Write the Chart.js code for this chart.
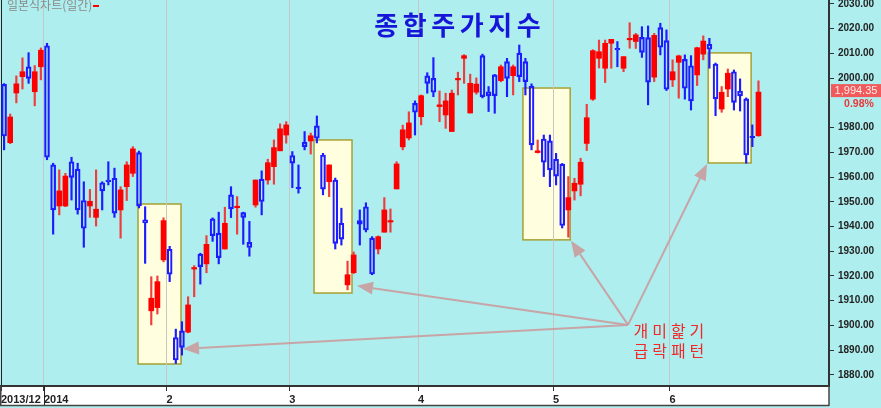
<!DOCTYPE html>
<html><head><meta charset="utf-8">
<script src="https://cdn.jsdelivr.net/npm/chart.js@4.4.1/dist/chart.umd.min.js"></script>
<style>html,body{margin:0;padding:0;background:#AFEEEE;overflow:hidden}canvas{display:block}</style>
</head><body>
<canvas id="c" width="881" height="408"></canvas>
<script>
// ---- data (KOSPI daily candles, 2013/12 - 2014/06) ----
const openV = [1997.5,1973.9,1994.0,2000.6,2004.6,1994.5,2004.6,2013.1,1964.9,1948.3,
 1948.3,1966.2,1963.2,1950.5,1948.3,1943.7,1957.7,1958.8,1959.5,1946.7,
 1956.1,1961.5,1969.9,1942.7,1905.9,1907.2,1926.5,1930.8,1895.1,1897.8,
 1897.3,1922.8,1928.8,1924.9,1943.1,1937.3,1930.9,1952.8,1947.6,1945.6,
 1933.6,1948.7,1959.1,1958.8,1964.2,1970.6,1977.0,1968.7,1955.7,1974.1,
 1974.6,1980.7,1968.9,1958.1,1958.8,1941.3,1916.4,1921.3,1942.4,1948.0,
 1935.3,1930.9,1937.7,1941.8,1955.2,1972.2,1975.8,1989.8,1984.4,2000.9,
 1999.9,1988.5,1985.1,1978.4,1999.3,2008.0,1985.9,1994.3,2009.1,1994.5,
 2001.3,1999.0,2006.7,2001.0,2010.1,2006.7,1996.8,1969.9,1975.4,1974.6,
 1967.2,1965.2,1946.7,1954.4,1957.1,1973.6,1991.5,2008.0,2004.0,2014.1,
 2012.1,2004.0,2015.5,2014.8,2016.5,2016.4,2000.4,2020.4,2015.2,1999.3,
 2006.4,2007.6,2005.0,2001.3,2009.7,2013.7,2005.7,1987.5,1995.6,2002.6,
 1994.8,1991.6,1976.1,1976.7];
const highV = [1997.8,1985.5,2000.9,2008.2,2010.3,2005.1,2012.2,2014.1,1965.6,1962.9,
 1961.5,1968.0,1965.6,1958.1,1955.0,1962.9,1958.1,1966.2,1963.6,1956.1,
 1966.2,1972.3,1970.5,1948.0,1919.7,1920.0,1943.5,1932.0,1898.5,1901.5,
 1911.6,1924.2,1929.2,1936.3,1943.5,1945.8,1947.8,1956.1,1952.1,1945.8,
 1942.1,1958.8,1962.5,1967.2,1975.0,1981.5,1982.4,1970.3,1964.9,1978.4,
 1977.8,1984.7,1969.6,1964.9,1959.6,1947.4,1926.0,1929.7,1946.7,1949.6,
 1935.9,1936.2,1951.7,1947.1,1966.2,1981.0,1986.4,1990.8,1993.2,2002.2,
 2008.3,1994.8,1993.9,1995.2,2002.4,2009.5,2001.6,2000.1,2009.7,1996.6,
 2001.5,2005.3,2008.0,2005.3,2013.4,2008.0,1997.7,1975.0,1977.0,1977.0,
 1969.6,1965.5,1960.2,1959.5,1967.6,1989.4,2011.5,2015.4,2015.4,2015.7,
 2014.8,2008.7,2022.4,2018.1,2020.8,2021.1,2018.1,2022.2,2019.5,2007.4,
 2009.3,2009.4,2009.1,2012.5,2017.1,2016.1,2006.1,1996.6,2003.7,2003.3,
 1999.7,1992.0,1981.1,1998.9];
const lowV = [1971.0,1973.5,1990.0,1995.6,1997.9,1988.8,1999.3,1967.0,1936.9,1944.7,
 1948.0,1950.7,1945.0,1931.6,1943.7,1940.2,1946.7,1956.8,1943.7,1935.3,
 1950.5,1960.2,1947.5,1925.1,1900.2,1904.6,1925.7,1917.7,1884.6,1888.0,
 1897.0,1911.6,1916.7,1921.3,1934.0,1924.9,1930.9,1943.6,1936.9,1932.8,
 1928.0,1947.8,1944.7,1957.1,1957.1,1970.6,1973.7,1955.7,1953.5,1971.0,
 1969.3,1973.8,1952.8,1952.1,1930.9,1932.5,1914.4,1921.0,1932.5,1937.8,
 1920.5,1928.9,1937.7,1937.7,1955.2,1971.0,1975.0,1977.0,1981.1,1993.9,
 1992.5,1982.4,1979.7,1978.4,1993.2,1997.9,1985.9,1993.5,1992.0,1986.5,
 1985.8,1998.5,1992.5,1993.2,1998.6,1993.2,1971.0,1969.7,1960.2,1956.1,
 1956.8,1939.4,1935.7,1950.7,1952.4,1970.7,1991.0,2004.1,1998.2,2004.0,
 2004.6,2002.6,2012.1,2012.0,2008.4,1989.2,1998.6,2009.4,1995.0,1996.6,
 1991.9,1991.5,1987.1,1997.0,2007.4,2004.0,1984.8,1986.2,1992.5,1987.1,
 1986.7,1965.6,1972.3,1976.5];
const closeV = [1976.6,1984.3,1997.7,2002.6,1999.9,2002.6,2011.3,1968.0,1946.7,1954.4,
 1960.4,1959.9,1946.7,1939.3,1950.2,1947.0,1954.4,1958.1,1945.4,1954.8,
 1964.9,1971.4,1948.3,1941.4,1911.0,1917.7,1942.4,1920.7,1886.0,1891.1,
 1908.3,1923.4,1923.8,1932.8,1936.3,1927.4,1941.3,1947.1,1948.0,1943.7,
 1931.5,1958.8,1950.1,1965.8,1971.9,1979.5,1981.1,1965.6,1955.3,1972.3,
 1976.7,1975.7,1955.1,1964.9,1933.2,1934.9,1920.5,1928.5,1940.9,1938.6,
 1920.8,1935.9,1946.7,1942.2,1965.3,1979.1,1981.9,1986.2,1992.9,1997.9,
 1994.3,1989.2,1990.8,1993.9,1999.9,2009.1,1997.9,1997.6,1992.5,1992.8,
 1992.9,2004.6,1999.9,2004.6,2000.6,1998.6,1973.0,1970.6,1966.0,1962.9,
 1960.4,1940.4,1951.7,1957.5,1966.0,1984.0,2011.1,2010.7,2014.1,2015.7,
 2011.4,2008.7,2015.9,2017.5,2010.4,1998.4,2017.3,2012.5,1995.5,2002.6,
 2009.0,1995.9,1990.8,2012.3,2015.0,2011.7,1991.6,1994.3,2002.0,1990.2,
 1992.8,1968.9,1975.9,1994.35];
const monthStartIdx = [0, 7, 27, 47, 68, 90, 109];
const monthLabels = ['2013/12', '2014', '2', '3', '4', '5', '6'];
// 1990 is covered by the last-price tag in the original
const yTickValues = [1880,1890,1900,1910,1920,1930,1940,1950,1960,1970,1980,2000,2010,2020,2030];
const lastChange = '0.98%';
const titleText = '종합주가지수';
const legendText = '일본식차트(일간)';
const noteLines = ['개미핥기', '급락패턴'];

// ---- styling / layout ----
const SLOTS = 135;
const RED = '#ff0000', RED_WICK = '#f03c3c', BLUE = '#1c1cff';
const idx = openV.map((_, i) => i);
const isUp = idx.map(i => closeV[i] >= openV[i]);

const bodyData = idx.map(i => ({x: i, y: [openV[i], closeV[i]]}));
const hiData = idx.map(i => ({x: i, y: [Math.max(openV[i], closeV[i]), highV[i]]}));
const loData = idx.map(i => ({x: i, y: [lowV[i], Math.min(openV[i], closeV[i])]}));
const wickColors = idx.map(i => isUp[i] ? RED_WICK : BLUE);

// annotation anchors in data space (index, value)
const boxes = [
  {x0: 21.84, x1: 28.85, y0: 1884.4, y1: 1949.1},
  {x0: 50.54, x1: 56.73, y0: 1913.1, y1: 1975.0},
  {x0: 84.60, x1: 92.30, y0: 1934.6, y1: 1996.0},
  {x0: 114.80, x1: 121.80, y0: 1965.7, y1: 2010.2}
];
const apex = {x: 101.73, y: 1900.2};
const tips = [{x: 29.17, y: 1890.5}, {x: 57.54, y: 1916.0}, {x: 92.44, y: 1934.2}, {x: 114.61, y: 1965.3}];
const noteAnchor = {x: 108.4, y1: 1897.8, y2: 1889.7};

const deco = {
  id: 'deco',
  beforeDraw(chart) {
    const {ctx, chartArea: a, scales: {x, y}} = chart;
    ctx.save();
    ctx.fillStyle = '#AFEEEE';
    ctx.fillRect(0, 0, chart.width, chart.height);
    ctx.fillStyle = '#ffffff';
    ctx.fillRect(0, a.bottom + 1, a.right, 405 - a.bottom - 1);
    boxes.forEach(b => {
      const px0 = x.getPixelForValue(b.x0), px1 = x.getPixelForValue(b.x1);
      const py0 = y.getPixelForValue(b.y1), py1 = y.getPixelForValue(b.y0);
      ctx.fillStyle = '#FFFFE0';
      ctx.fillRect(px0, py0, px1 - px0, py1 - py0);
      ctx.strokeStyle = '#A6A032';
      ctx.lineWidth = 1.5;
      ctx.strokeRect(px0, py0, px1 - px0, py1 - py0);
    });
    ctx.restore();
  },
  afterDatasetsDraw(chart) {
    const {ctx, scales: {x, y}} = chart;
    ctx.save();
    const ax = x.getPixelForValue(apex.x), ay = y.getPixelForValue(apex.y);
    ctx.strokeStyle = 'rgba(200,160,162,0.95)';
    ctx.fillStyle = 'rgba(200,160,162,0.95)';
    ctx.lineWidth = 2;
    tips.forEach(t => {
      const tx = x.getPixelForValue(t.x), ty = y.getPixelForValue(t.y);
      const ang = Math.atan2(ty - ay, tx - ax);
      const L = 16, W = 6.5;
      const bx = tx - L * Math.cos(ang), by = ty - L * Math.sin(ang);
      ctx.beginPath(); ctx.moveTo(ax, ay); ctx.lineTo(bx, by); ctx.stroke();
      ctx.beginPath(); ctx.moveTo(tx, ty);
      ctx.lineTo(bx + W * Math.sin(ang), by - W * Math.cos(ang));
      ctx.lineTo(bx - W * Math.sin(ang), by + W * Math.cos(ang));
      ctx.closePath(); ctx.fill();
    });
    ctx.fillStyle = '#f02828';
    ctx.font = '16px "Noto Sans CJK KR"';
    ctx.textAlign = 'center'; ctx.textBaseline = 'middle';
    const nx = x.getPixelForValue(noteAnchor.x);
    [noteAnchor.y1, noteAnchor.y2].forEach((vy, li) => {
      const py = y.getPixelForValue(vy);
      const chars = [...noteLines[li]];
      chars.forEach((ch, k) => ctx.fillText(ch, nx + (k - (chars.length - 1) / 2) * 18.7, py));
    });
    ctx.restore();
  },
  afterDraw(chart) {
    const {ctx, chartArea: a, scales: {x, y}} = chart;
    ctx.save();
    ctx.fillStyle = '#1616d8';
    ctx.font = 'bold 26px "Noto Sans CJK KR"';
    ctx.textAlign = 'center'; ctx.textBaseline = 'middle';
    const tch = [...titleText];
    tch.forEach((ch, k) => ctx.fillText(ch, 457.5 + (k - (tch.length - 1) / 2) * 28.5, 25));
    ctx.fillStyle = '#8a8a8a';
    ctx.font = '12px "Noto Sans CJK KR"';
    ctx.textAlign = 'left';
    ctx.fillText(legendText, 7, 5);
    ctx.fillStyle = RED;
    ctx.fillRect(93, 5, 6, 2);
    ctx.strokeStyle = '#222'; ctx.lineWidth = 1;
    const yx = Math.round(x.getPixelForValue(monthStartIdx[1] - 0.5)) + 0.5;
    ctx.beginPath(); ctx.moveTo(yx, a.bottom); ctx.lineTo(yx, 405); ctx.stroke();
    ctx.strokeStyle = '#444'; ctx.lineWidth = 1.5;
    ctx.beginPath(); ctx.moveTo(0, 405.5); ctx.lineTo(a.right, 405.5); ctx.stroke();
    ctx.beginPath(); ctx.moveTo(a.right, a.bottom); ctx.lineTo(a.right, 406); ctx.stroke();
    ctx.beginPath(); ctx.moveTo(0.75, a.bottom); ctx.lineTo(0.75, 406); ctx.stroke();
    const last = closeV[closeV.length - 1];
    const py = y.getPixelForValue(last) - 1.5;
    ctx.fillStyle = '#f05a5a';
    ctx.fillRect(a.right + 2, py - 6.5, chart.width - a.right - 2, 13);
    ctx.fillStyle = '#ffecec';
    ctx.font = '11px "Liberation Sans"';
    ctx.textAlign = 'center';
    ctx.fillText(last.toLocaleString('en-US', {minimumFractionDigits: 2, maximumFractionDigits: 2}), 856, py + 0.5);
    ctx.fillStyle = '#e83838';
    ctx.font = 'bold 10.5px "Liberation Sans"';
    ctx.fillText(lastChange, 859, py + 13);
    ctx.restore();
  }
};

Chart.defaults.font.family = '"Liberation Sans", Arial, sans-serif';

new Chart(document.getElementById('c'), {
  type: 'bar',
  data: {
    datasets: [
      {label: 'body', data: bodyData, order: 0, grouped: false,
        barPercentage: 1, categoryPercentage: 1, maxBarThickness: 5, minBarLength: 1.5,
        backgroundColor: idx.map(i => isUp[i] ? RED : 'rgba(0,0,0,0)'),
        borderColor: idx.map(i => isUp[i] ? RED : BLUE),
        borderWidth: idx.map(i => isUp[i] ? 0 : 1.5),
        borderSkipped: false},
      {label: 'hi', data: hiData, order: 1, grouped: false,
        barPercentage: 1, categoryPercentage: 1, maxBarThickness: 1.5,
        backgroundColor: wickColors, borderWidth: 0},
      {label: 'lo', data: loData, order: 2, grouped: false,
        barPercentage: 1, categoryPercentage: 1, maxBarThickness: 1.5,
        backgroundColor: wickColors, borderWidth: 0}
    ]
  },
  options: {
    responsive: false,
    animation: false,
    events: [],
    layout: {padding: {left: 1, top: 0, right: 0, bottom: 0}},
    plugins: {legend: {display: false}, tooltip: {enabled: false}, title: {display: false}},
    scales: {
      x: {
        type: 'linear', offset: false, min: -0.5, max: SLOTS - 0.5,
        afterBuildTicks: s => { s.ticks = monthStartIdx.map(i => ({value: i - 0.5})); },
        afterFit: s => { s.height = 22; s.paddingLeft = 0; s.paddingRight = 0; },
        grid: {offset: false, color: c => c.index === 0 ? '#222' : '#c6c6c6', lineWidth: 1,
          drawTicks: true, tickLength: 5, tickColor: '#333'},
        border: {color: '#333', width: 2},
        ticks: {autoSkip: false, maxRotation: 0, align: 'start', padding: 2,
          color: '#222', font: {size: 11, weight: 'bold'},
          callback: (v, k) => monthLabels[k]}
      },
      y: {
        type: 'linear', position: 'right', min: 1875.5, max: 2031.6,
        afterBuildTicks: s => { s.ticks = yTickValues.map(v => ({value: v})); },
        afterFit: s => { s.width = 52; s.paddingTop = 0; s.paddingBottom = 0; },
        grid: {drawOnChartArea: false, drawTicks: true, tickLength: 5, tickColor: '#333'},
        border: {color: '#333', width: 2},
        ticks: {padding: 4, color: '#222', font: {size: 10, weight: 'bold'},
          callback: v => Number(v).toFixed(2)}
      }
    }
  },
  plugins: [deco]
});
</script>
</body></html>
